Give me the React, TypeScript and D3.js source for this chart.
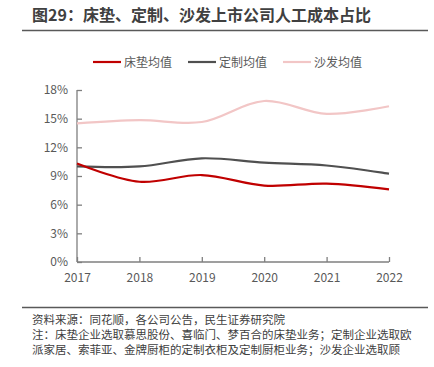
import React, { useEffect, useRef } from 'react'
import * as d3 from 'd3'

// 数据
const years = ['2017', '2018', '2019', '2020', '2021', '2022']
const mattress = [10.3, 8.4, 9.1, 8.0, 8.2, 7.6]
const custom = [10.0, 10.0, 10.85, 10.4, 10.1, 9.25]
const sofa = [14.5, 14.85, 14.65, 16.85, 15.5, 16.3]
const seriesNames = ['床垫均值', '定制均值', '沙发均值']
const seriesColors = ['#c00000', '#505050', '#f2c6c6']
const yTicks = [0, 3, 6, 9, 12, 15, 18]

const W = 434
const H = 367
const FONT = '"Noto Sans CJK SC", "Noto Sans", sans-serif'

export default function App() {
    const ref = useRef<SVGSVGElement>(null)

    useEffect(() => {
        const svg = d3.select(ref.current)
        svg.selectAll('*').remove()

        // 标题
        svg.append('text')
            .attr('x', 32).attr('y', 21)
            .attr('font-size', 16).attr('font-weight', 'bold')
            .attr('fill', '#404040').attr('font-family', FONT)
            .text('图29：床垫、定制、沙发上市公司人工成本占比')
        svg.append('line')
            .attr('x1', 22).attr('x2', 428).attr('y1', 30.5).attr('y2', 30.5)
            .attr('stroke', '#595959').attr('stroke-width', 1.5)

        const x = d3.scalePoint().domain(years).range([77, 389])
        const y = d3.scaleLinear().domain([0, 18]).range([262, 90])

        // 坐标轴
        const xAxis = d3.axisBottom(x).tickSize(5).tickPadding(4)
        const gx = svg.append('g').attr('transform', 'translate(0,262)').call(xAxis)
        gx.selectAll('line').attr('transform', 'translate(0,-5)')
        gx.select('.domain').attr('d', 'M77,0H389')

        const yAxis = d3.axisLeft(y).tickValues(yTicks).tickFormat(d => d + '%').tickSize(5).tickPadding(4)
        const gy = svg.append('g').attr('transform', 'translate(77,0)').call(yAxis)
        gy.selectAll('line').attr('transform', 'translate(5,0)')
        gy.select('.domain').attr('d', 'M0,90V262')

        svg.selectAll('.domain, .tick line').attr('stroke', '#7f7f7f').attr('stroke-width', 1.3)
        svg.selectAll('.tick text').attr('fill', '#595959').attr('font-size', 12).attr('font-family', FONT)
        gx.selectAll('.tick text').attr('dy', '0.9em')

        // 折线
        const line = d3.line<number>()
            .x((d, i) => x(years[i]) as number)
            .y(d => y(d))
            .curve(d3.curveCatmullRom.alpha(0.5))

        const data = [sofa, custom, mattress]
        const colors = [seriesColors[2], seriesColors[1], seriesColors[0]]
        data.forEach((s, i) => {
            svg.append('path')
                .attr('d', line(s))
                .attr('fill', 'none')
                .attr('stroke', colors[i])
                .attr('stroke-width', 2.2)
        })

        // 图例
        const legendX = [93, 188, 283]
        seriesNames.forEach((name, i) => {
            svg.append('line')
                .attr('x1', legendX[i]).attr('x2', legendX[i] + 28)
                .attr('y1', 62).attr('y2', 62)
                .attr('stroke', seriesColors[i]).attr('stroke-width', 2.2)
            svg.append('text')
                .attr('x', legendX[i] + 31).attr('y', 66.5)
                .attr('font-size', 12).attr('fill', '#595959').attr('font-family', FONT)
                .text(name)
        })

        // 底部说明
        svg.append('line')
            .attr('x1', 22).attr('x2', 428).attr('y1', 307.5).attr('y2', 307.5)
            .attr('stroke', '#595959').attr('stroke-width', 1.5)
        const notes = [
            '资料来源：同花顺，各公司公告，民生证券研究院',
            '注：床垫企业选取慕思股份、喜临门、梦百合的床垫业务；定制企业选取欧',
            '派家居、索菲亚、金牌厨柜的定制衣柜及定制厨柜业务；沙发企业选取顾',
        ]
        notes.forEach((t, i) => {
            svg.append('text')
                .attr('x', 32).attr('y', 324 + i * 15)
                .attr('font-size', 11.5).attr('fill', '#404040').attr('font-family', FONT)
                .text(t)
        })
    }, [])

    return (
        <svg ref={ref} width={W} height={H} style={{ position: 'absolute', left: 0, top: 0, background: '#fff' }} />
    )
}
